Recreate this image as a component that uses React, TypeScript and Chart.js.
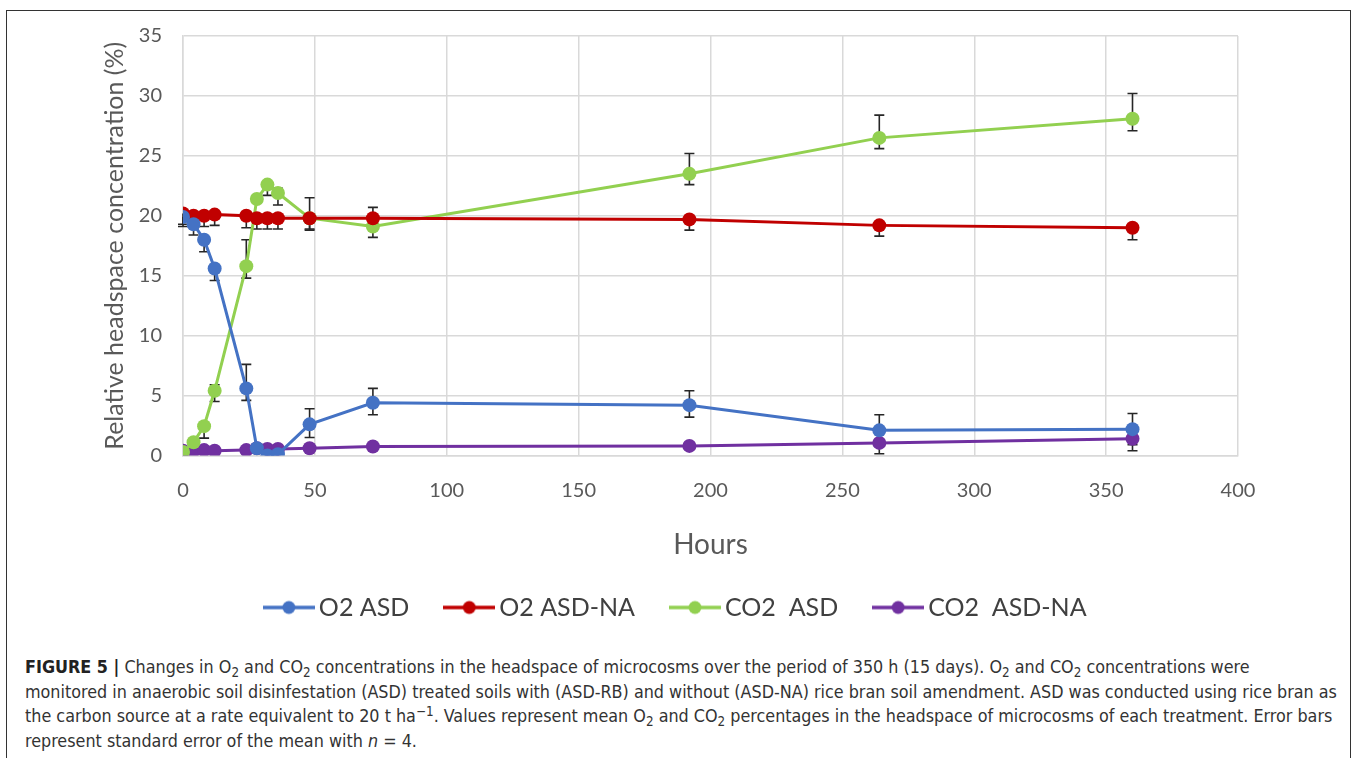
import React, { useEffect, useRef } from "react";
import { Chart, registerables } from "chart.js";

Chart.register(...registerables);

// ---- data ----
const hours = [0, 4, 8, 12, 24, 28, 32, 36, 48, 72, 192, 264, 360];

const o2Asd = [19.9, 19.3, 18.0, 15.6, 5.6, 0.6, 0.0, 0.1, 2.6, 4.4, 4.2, 2.1, 2.2];
const o2AsdPlus = [0, 0, 0, 0, 2.0, 0, 0, 0, 1.3, 1.2, 1.2, 1.3, 1.3];
const o2AsdMinus = [0.8, 0.9, 1.0, 1.0, 1.0, 0, 0, 0, 1.1, 1.0, 1.0, 1.3, 1.3];

const o2AsdNa = [20.2, 20.0, 20.0, 20.1, 20.0, 19.8, 19.8, 19.8, 19.8, 19.8, 19.7, 19.2, 19.0];
const o2AsdNaPlus = [0, 0, 0, 0, 0, 0, 0, 0, 0, 0, 0, 0, 0];
const o2AsdNaMinus = [0.9, 0.9, 0.9, 0.9, 1.0, 0.9, 0.9, 0.9, 0.9, 0, 0.9, 0.9, 1.0];

const co2Asd = [0.3, 1.1, 2.45, 5.4, 15.8, 21.4, 22.6, 21.9, 19.8, 19.1, 23.5, 26.5, 28.1];
const co2AsdPlus = [0, 0, 0, 0.5, 2.2, 0, 0, 0.4, 1.7, 1.6, 1.7, 1.9, 2.1];
const co2AsdMinus = [0, 0, 1.0, 0.9, 1.0, 0, 0.9, 1.0, 1.0, 0.9, 0.9, 0.9, 1.0];

const co2AsdNa = [0.4, 0.4, 0.45, 0.4, 0.45, 0.6, 0.55, 0.55, 0.6, 0.75, 0.8, 1.05, 1.4];
const co2AsdNaPlus = [0, 0, 0, 0, 0, 0, 0, 0, 0, 0, 0, 1.0, 1.0];
const co2AsdNaMinus = [0, 0, 0, 0, 0, 0, 0, 0, 0, 0, 0, 0.9, 1.0];

const seriesLabels = ["O2 ASD", "O2 ASD-NA", "CO2  ASD", "CO2  ASD-NA"];
const seriesValues = [o2Asd, o2AsdNa, co2Asd, co2AsdNa];
const seriesPlus = [o2AsdPlus, o2AsdNaPlus, co2AsdPlus, co2AsdNaPlus];
const seriesMinus = [o2AsdMinus, o2AsdNaMinus, co2AsdMinus, co2AsdNaMinus];
const seriesColors = ["#4472C4", "#C00000", "#92D050", "#7030A0"];

const xTicks = [0, 50, 100, 150, 200, 250, 300, 350, 400];
const yTicks = [0, 5, 10, 15, 20, 25, 30, 35];

const FONT = "Lato, 'Open Sans', sans-serif";

function makeLegendIcon(color: string): HTMLCanvasElement {
  const c = document.createElement("canvas");
  c.width = 52;
  c.height = 16;
  const ctx = c.getContext("2d")!;
  ctx.strokeStyle = color;
  ctx.lineWidth = 3.5;
  ctx.beginPath();
  ctx.moveTo(0, 8);
  ctx.lineTo(52, 8);
  ctx.stroke();
  ctx.fillStyle = color;
  ctx.beginPath();
  ctx.arc(26, 8, 6.5, 0, Math.PI * 2);
  ctx.fill();
  return c;
}

const errorBarPlugin = {
  id: "errorBars",
  afterLayout(chart: any) {
    // center the legend across the full canvas width
    if (chart.legend) {
      chart.legend.left = 0;
      chart.legend.right = chart.width;
    }
  },
  beforeDatasetsDraw(chart: any) {
    const ctx = chart.ctx;
    const yScale = chart.scales.y;
    ctx.save();
    ctx.strokeStyle = "#262626";
    ctx.lineWidth = 1.6;
    chart.data.datasets.forEach((ds: any, di: number) => {
      const meta = chart.getDatasetMeta(di);
      const plus = seriesPlus[di];
      const minus = seriesMinus[di];
      meta.data.forEach((pt: any, i: number) => {
        const v = seriesValues[di][i];
        const up = plus[i];
        const dn = minus[i];
        if (!up && !dn) return;
        const x = pt.x;
        const yTop = yScale.getPixelForValue(v + up);
        const yBot = yScale.getPixelForValue(v - dn);
        ctx.beginPath();
        ctx.moveTo(x, yTop);
        ctx.lineTo(x, yBot);
        if (up) {
          ctx.moveTo(x - 5, yTop);
          ctx.lineTo(x + 5, yTop);
        }
        if (dn) {
          ctx.moveTo(x - 5, yBot);
          ctx.lineTo(x + 5, yBot);
        }
        ctx.stroke();
      });
    });
    ctx.restore();
  },
};

function ChartCanvas() {
  const ref = useRef<HTMLCanvasElement | null>(null);
  useEffect(() => {
    if (!ref.current) return;
    const icons = seriesColors.map(makeLegendIcon);
    const chart = new Chart(ref.current, {
      type: "line",
      data: {
        datasets: seriesLabels.map((label, i) => ({
          label,
          data: hours.map((h, j) => ({ x: h, y: seriesValues[i][j] })),
          borderColor: seriesColors[i],
          backgroundColor: seriesColors[i],
          borderWidth: 3,
          pointRadius: 7,
          pointBorderWidth: 0,
          pointBackgroundColor: seriesColors[i],
          tension: 0,
        })),
      },
      options: {
        animation: false,
        responsive: false,
        maintainAspectRatio: false,
        layout: { padding: { top: 36, right: 120, left: 0, bottom: 0 } },
        plugins: {
          tooltip: { enabled: false },
          legend: {
            position: "bottom",
            align: "center",
            labels: {
              usePointStyle: true,
              pointStyleWidth: 35,
              boxHeight: 16,
              padding: 42.5,
              color: "#404040",
              font: { family: FONT, size: 25 },
              generateLabels: (ch: any) =>
                ch.data.datasets.map((ds: any, i: number) => ({
                  text: ds.label,
                  pointStyle: icons[i],
                  fillStyle: seriesColors[i],
                  strokeStyle: seriesColors[i],
                  lineWidth: 0,
                  hidden: false,
                  datasetIndex: i,
                  fontColor: "#404040",
                })),
            },
          },
        },
        scales: {
          x: {
            type: "linear",
            min: 0,
            max: 400,
            afterBuildTicks: (s: any) => {
              s.ticks = xTicks.map((v) => ({ value: v }));
            },
            afterFit: (s: any) => {
              s.height = 97;
            },
            grid: { color: "#d9d9d9", lineWidth: 1.5, drawTicks: false },
            border: { color: "#d9d9d9", width: 1.5 },
            ticks: {
              padding: 23,
              color: "#595959",
              font: { family: FONT, size: 20 },
            },
            title: {
              display: true,
              text: "Hours",
              color: "#595959",
              font: { family: FONT, size: 28 },
              padding: { top: 0, bottom: -9 },
            },
          },
          y: {
            type: "linear",
            min: 0,
            max: 35,
            afterBuildTicks: (s: any) => {
              s.ticks = yTicks.map((v) => ({ value: v }));
            },
            afterFit: (s: any) => {
              s.width = 183;
            },
            grid: { color: "#d9d9d9", lineWidth: 1.5, drawTicks: false },
            border: { color: "#d9d9d9", width: 1.5 },
            ticks: {
              padding: 21,
              color: "#595959",
              font: { family: FONT, size: 20 },
            },
            title: {
              display: true,
              text: "Relative headspace concentration (%)",
              color: "#595959",
              font: { family: FONT, size: 25 },
              padding: { top: 100, bottom: 0 },
            },
          },
        },
      },
      plugins: [errorBarPlugin],
    } as any);
    return () => chart.destroy();
  }, []);
  return (
    <canvas
      ref={ref}
      width={1358}
      height={630}
      style={{ position: "absolute", left: 0, top: 0, width: 1358, height: 630 }}
    />
  );
}

const captionStyle: React.CSSProperties = {
  position: "absolute",
  left: 25,
  top: 655,
  fontFamily: "'Liberation Sans Narrow', 'DejaVu Sans Condensed', 'Liberation Sans', sans-serif",
  fontSize: 17.8,
  lineHeight: "24.5px",
  color: "#333",
  whiteSpace: "nowrap",
};

const subStyle: React.CSSProperties = {
  fontSize: "0.75em",
  verticalAlign: "baseline",
  position: "relative",
  top: "0.3em",
  lineHeight: 0,
};
const supStyle: React.CSSProperties = {
  fontSize: "0.75em",
  verticalAlign: "baseline",
  position: "relative",
  top: "-0.45em",
  lineHeight: 0,
};

export default function App() {
  return (
    <div
      style={{
        position: "absolute",
        left: 0,
        top: 0,
        width: 1358,
        height: 758,
        background: "#fff",
        overflow: "hidden",
      }}
    >
      <div
        style={{
          position: "absolute",
          left: 6,
          top: 10,
          width: 1345,
          height: 760,
          border: "1.5px solid #333",
          boxSizing: "border-box",
        }}
      />
      <ChartCanvas />
      <div style={captionStyle}>
        <b style={{ color: "#222" }}>FIGURE 5 |</b> Changes in O<sub style={subStyle}>2</sub> and CO
        <sub style={subStyle}>2</sub> concentrations in the headspace of microcosms over the period of 350 h (15
        days). O<sub style={subStyle}>2</sub> and CO<sub style={subStyle}>2</sub> concentrations were
        <br />
        monitored in anaerobic soil disinfestation (ASD) treated soils with (ASD-RB) and without (ASD-NA) rice bran
        soil amendment. ASD was conducted using rice bran as
        <br />
        the carbon source at a rate equivalent to 20 t ha<sup style={supStyle}>−1</sup>. Values represent mean O
        <sub style={subStyle}>2</sub> and CO<sub style={subStyle}>2</sub> percentages in the headspace of microcosms
        of each treatment. Error bars
        <br />
        represent standard error of the mean with <i>n</i> = 4.
      </div>
    </div>
  );
}
